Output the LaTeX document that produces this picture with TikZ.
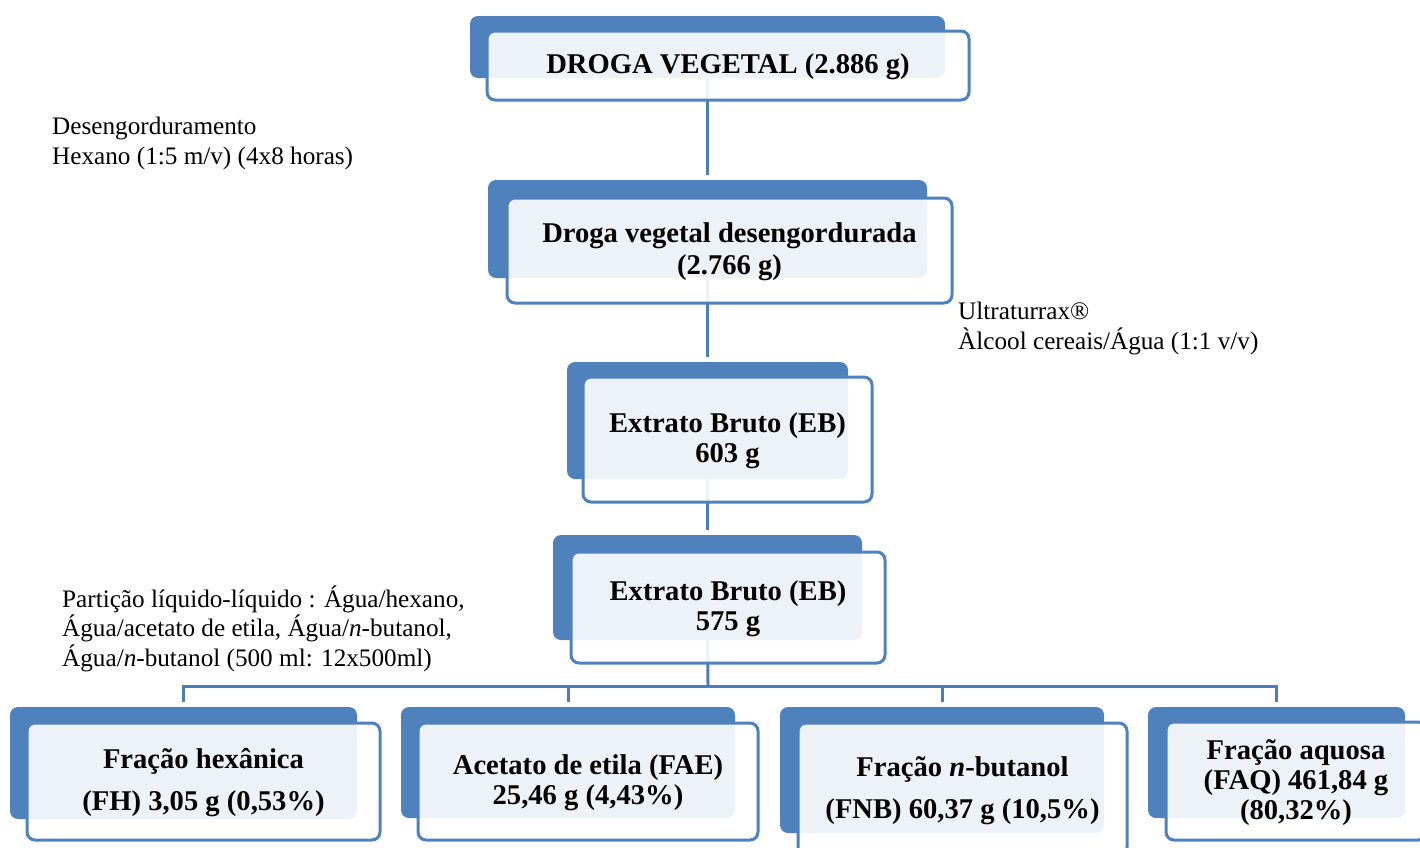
\documentclass[tikz,border=0pt]{standalone}
\usepackage{fontspec}
\setmainfont{Liberation Serif}
\usetikzlibrary{fit}
\pgfdeclarelayer{background}
\pgfsetlayers{background,main}
\definecolor{boxblue}{HTML}{4F81BD}
\definecolor{lineblue}{HTML}{4A7EBB}
\tikzset{
  bluebox/.style={fill=boxblue, rounded corners=8pt, inner sep=0pt, draw=none},
  whitebox/.style={draw=boxblue, line width=3pt, rounded corners=8pt, fill=white,
    fill opacity=0.9, text opacity=1, inner sep=0pt},
  boxtext/.style={align=center, inner sep=0pt},
  sidetext/.style={align=left, inner sep=0pt, anchor=base west,
    font=\fontsize{25.2}{29.5}\selectfont},
  conn/.style={draw=lineblue, line width=3pt},
}
\newcommand\blk[5]{%
  \node[bluebox, fit={#2}] (b#1) {};
  \node[whitebox, fit={#3}] (w#1) {};
  \node[boxtext, font=\fontsize{28.6}{#5}\selectfont\bfseries] (t#1) at ([yshift=-1.5pt]w#1.center) {#4};
}
\begin{document}
\begin{tikzpicture}[x=1pt,y=-1pt]
\useasboundingbox (0,0) rectangle (1420,847);
\blk{1}{(470,16) (945,78)}{(487,31) (969,100)}{DROGA VEGETAL (2.886 g)}{32}
\blk{2}{(488,180) (927,278)}{(507,198) (952,303)}{Droga vegetal desengordurada\\(2.766 g)}{32}
\blk{3}{(567,362) (848,479)}{(583,377) (872,502)}{Extrato Bruto (EB)\\603 g}{30}
\blk{4}{(553,535) (862,640)}{(571,552) (885,663)}{Extrato Bruto (EB)\\575 g}{30}
\blk{5}{(10,707) (357,819)}{(27,723) (380,840)}{Fração hexânica\\(FH) 3,05 g (0,53\%)}{42}
\blk{6}{(401,707) (735,818)}{(418,723) (758,840)}{Acetato de etila (FAE)\\25,46 g (4,43\%)}{30}
\blk{7}{(780,707) (1104,833)}{(798,723) (1127,855)}{Fração \textit{n}-butanol\\(FNB) 60,37 g (10,5\%)}{42}
\blk{8}{(1148,707) (1405,818)}{(1166,722) (1426,840)}{Fração aquosa\\(FAQ) 461,84 g\\(80,32\%)}{30}
\coordinate (bus) at (708,686);
\begin{pgfonlayer}{background}
  \draw[conn] (b1.center) -- ([yshift=5pt]b2.north);
  \draw[conn] (b2.center) -- ([yshift=5pt]b3.north);
  \draw[conn] (b3.center) -- ([yshift=5pt]b4.north);
  \draw[conn] (b4.center) -- (bus);
  \draw[conn] ([yshift=5pt]b5.north) |- (bus) -| ([yshift=5pt]b8.north);
  \draw[conn] ([yshift=5pt]b6.north) -- (b6.north |- bus);
  \draw[conn] ([yshift=5pt]b7.north) -- (b7.north |- bus);
\end{pgfonlayer}
\node[sidetext] (s1) at (52,164) {Desengorduramento\\Hexano (1:5 m/v) (4x8 horas)};
\node[sidetext] (s2) at (958,349) {Ultraturrax®\\Àlcool cereais/Água (1:1 v/v)};
\node[sidetext] (s3) at (62,666) {Partição líquido-líquido : Água/hexano,\\Água/acetato de etila, Água/\textit{n}-butanol,\\Água/\textit{n}-butanol (500 ml: 12x500ml)};
\end{tikzpicture}
\end{document}
